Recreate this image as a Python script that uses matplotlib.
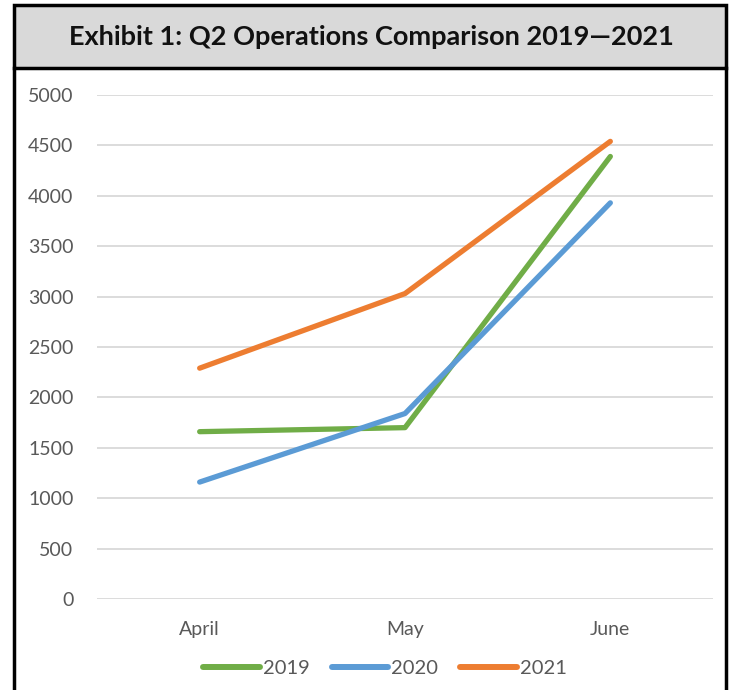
import matplotlib
matplotlib.use("Agg")
import matplotlib.pyplot as plt
from matplotlib.patches import Rectangle
from matplotlib.lines import Line2D

months = ["April", "May", "June"]
years = ["2019", "2020", "2021"]
sales_2019 = [1660, 1700, 4390]
sales_2020 = [1160, 1840, 3930]
sales_2021 = [2290, 3030, 4540]
colors = ["#70ad47", "#5b9bd5", "#ed7d31"]

plt.rcParams['font.family'] = ['Lato', 'DejaVu Sans']

W, H = 730, 690
fig = plt.figure(figsize=(W / 100, H / 100), dpi=100)

# title box and frame
fig.patches.append(Rectangle((14 / W, 1 - 68 / H), (726 - 14) / W, 63 / H,
                             transform=fig.transFigure, facecolor="#d9d9d9",
                             edgecolor="black", linewidth=2.5, zorder=0))
for x in (14, 726):
    fig.lines.append(Line2D([x / W, x / W], [0, 1 - 68 / H], transform=fig.transFigure,
                            color="black", linewidth=2.5))
fig.text(371 / W, 1 - 37 / H, "Exhibit 1: Q2 Operations Comparison 2019\u20142021",
         ha="center", va="center", fontsize=19.5, fontweight="bold", color="#111111")

ax = fig.add_axes([97 / W, 1 - 599 / H, (713 - 97) / W, (599 - 95) / H])
x = range(len(months))
for vals, year, c in zip([sales_2019, sales_2020, sales_2021], years, colors):
    ax.plot(x, vals, color=c, linewidth=3.8, solid_capstyle="round", label=year)

ax.set_xlim(-0.5, 2.5)
ax.set_ylim(0, 5000)
ax.set_yticks(range(0, 5001, 500))
ax.set_xticks(list(x))
ax.set_xticklabels(months)
ax.grid(axis="y", color="#d9d9d9", linewidth=1.3)
ax.set_axisbelow(True)
for s in ax.spines.values():
    s.set_visible(False)
ax.tick_params(axis="y", length=0, pad=17, labelsize=14, labelcolor="#595959")
ax.tick_params(axis="x", length=0, pad=16, labelsize=14, labelcolor="#595959")

leg = fig.legend(loc="center", bbox_to_anchor=(385 / W, 1 - 668 / H), ncol=3, frameon=False,
                 fontsize=14.5, handlelength=2.8, handletextpad=0.15, columnspacing=1.1,
                 labelcolor="#595959")
for h in leg.get_lines():
    h.set_linewidth(4.3)

fig.savefig("out.png", dpi=100)
